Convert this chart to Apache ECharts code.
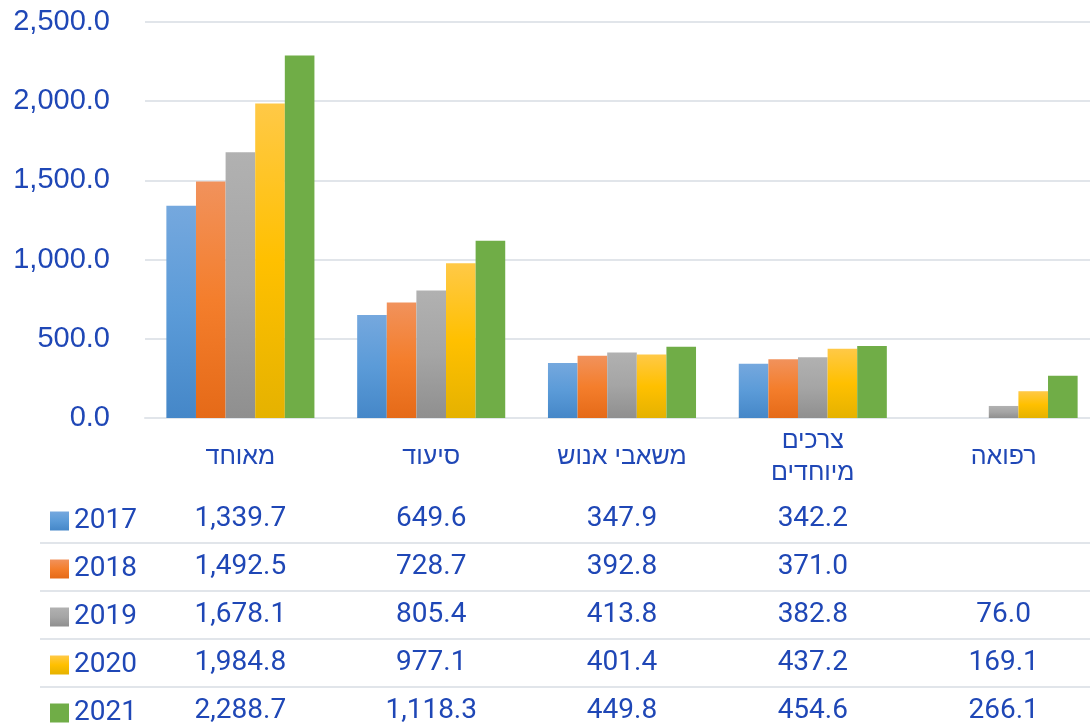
<!DOCTYPE html>
<html>
<head>
<meta charset="utf-8">
<script src="https://cdn.jsdelivr.net/npm/echarts@6/dist/echarts.min.js"></script>
<style>
  html, body { margin: 0; padding: 0; background: #fff; overflow: hidden; }
  /* a little wider than the window: the last category runs past the right edge */
  #chart { width: 1099px; height: 725px; }
</style>
</head>
<body>
<div id="chart"></div>
<script>
const categories = ['מאוחד', 'סיעוד', 'משאבי אנוש', 'צרכים\nמיוחדים', 'רפואה'];
const years = ['2017', '2018', '2019', '2020', '2021'];
const values2017 = [1339.7, 649.6, 347.9, 342.2, null];
const values2018 = [1492.5, 728.7, 392.8, 371.0, null];
const values2019 = [1678.1, 805.4, 413.8, 382.8, 76.0];
const values2020 = [1984.8, 977.1, 401.4, 437.2, 169.1];
const values2021 = [2288.7, 1118.3, 449.8, 454.6, 266.1];
const yTicks = [0, 500, 1000, 1500, 2000, 2500];

const allValues = [values2017, values2018, values2019, values2020, values2021];

const textColor = '#1f47b6';
const gridColor = '#e1e5ea';
const numFont = 'Roboto, "Liberation Sans", sans-serif';

// gradient per bar: light top -> darker bottom (green is flat)
function grad(top, mid, bottom) {
  return new echarts.graphic.LinearGradient(0, 0, 0, 1, [
    { offset: 0, color: top },
    { offset: 0.5, color: mid },
    { offset: 1, color: bottom }
  ]);
}
const colors = [
  grad('#75a8de', '#5b9bd8', '#4587c8'),
  grad('#f1925c', '#f47e2c', '#e56a18'),
  grad('#b1b1b1', '#a5a5a5', '#8f8f8f'),
  grad('#ffc947', '#ffc000', '#e5b200'),
  '#70ad47'
];

function fmt(v) {
  if (v === null || v === undefined) return '';
  return v.toLocaleString('en-US', { minimumFractionDigits: 1, maximumFractionDigits: 1 });
}

const rowCenters = [519, 567, 615, 663, 711];
const axisY = 418;

// one hidden x axis per table row, labels = that year's values
const tableAxes = years.map((y, i) => ({
  type: 'category',
  gridIndex: 0,
  position: 'bottom',
  offset: rowCenters[i] - axisY,
  data: categories,
  axisLine: { show: false },
  axisTick: { show: false },
  splitLine: { show: false },
  axisLabel: {
    margin: 0,
    interval: 0,
    verticalAlign: 'middle',
    color: textColor,
    fontFamily: numFont,
    fontSize: 28,
    formatter: (val, idx) => fmt(allValues[i][idx])
  }
}));

const lines = [543, 591, 639, 687].map(y => ({
  type: 'line',
  shape: { x1: 40, y1: y, x2: 1099, y2: y },
  style: { stroke: gridColor, lineWidth: 2 }
}));

const chart = echarts.init(document.getElementById('chart'));
chart.setOption({
  animation: false,
  grid: { left: 145, top: 22, right: 0, height: 396 },
  legend: {
    orient: 'vertical',
    left: 50,
    top: 507,
    height: 240,
    padding: 0,
    itemWidth: 19,
    itemHeight: 19,
    itemGap: 20,
    icon: 'rect',
    data: years,
    textStyle: {
      color: textColor,
      fontFamily: numFont,
      fontSize: 28
    }
  },
  xAxis: [{
    type: 'category',
    data: categories,
    axisLine: { lineStyle: { color: gridColor, width: 2 } },
    axisTick: { show: false },
    axisLabel: {
      interval: 0,
      margin: 39,
      verticalAlign: 'middle',
      color: textColor,
      fontFamily: '"Liberation Sans", Arial, sans-serif',
      fontSize: 25,
      lineHeight: 32
    }
  }].concat(tableAxes),
  yAxis: {
    type: 'value',
    min: yTicks[0],
    max: yTicks[yTicks.length - 1],
    interval: 500,
    axisLine: { show: false },
    axisTick: { show: false },
    splitLine: { lineStyle: { color: gridColor, width: 2 } },
    axisLabel: {
      margin: 35,
      color: textColor,
      fontFamily: '"Liberation Sans", Arial, sans-serif',
      fontSize: 29,
      formatter: v => fmt(v)
    }
  },
  series: years.map((y, i) => ({
    name: y,
    type: 'bar',
    data: allValues[i],
    barGap: '0%',
    barCategoryGap: '22.4%',
    itemStyle: { color: colors[i] }
  })),
  graphic: lines
});
</script>
</body>
</html>
